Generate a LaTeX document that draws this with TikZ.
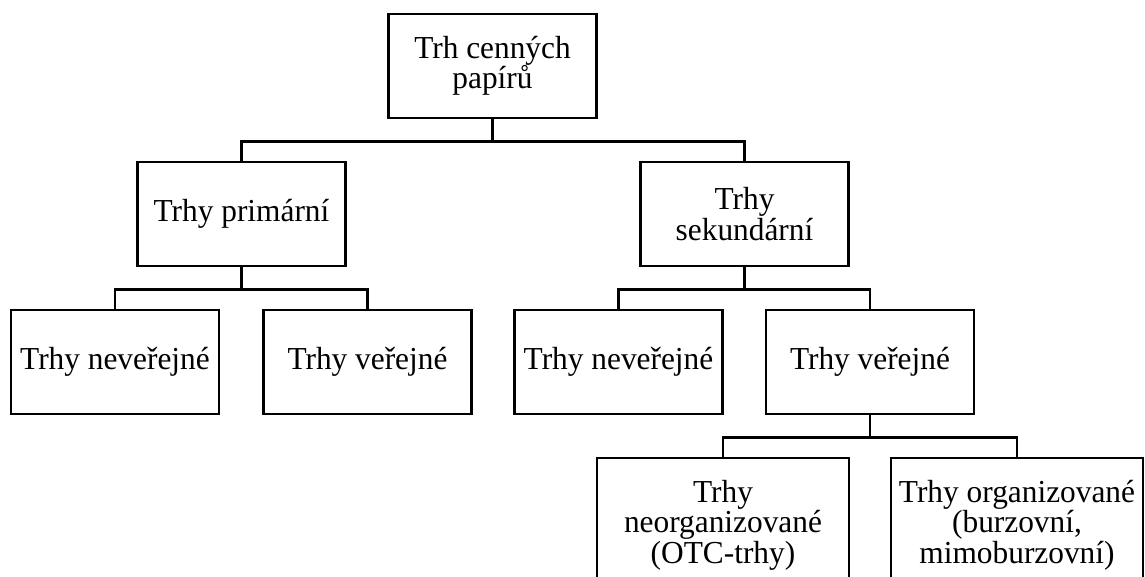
\documentclass[tikz,border=0pt]{standalone}
\usepackage{fontspec}
\setmainfont[FakeStretch=0.98]{Liberation Serif}

\begin{document}
\begin{tikzpicture}[x=1pt, y=-1pt, line width=2.6pt,
    box/.style={draw, rectangle, align=center, inner sep=0pt,
      minimum width=208pt, minimum height=104pt,
      font=\fontsize{32}{30.5}\selectfont}]
    \useasboundingbox (0,0) rectangle (1145,577);
    \clip (0,0) rectangle (1145,577);

    \node[box] (trh)  at (492.5,  66) {Trh cenných\\papírů};
    \node[box] (prim) at (241.5, 214) {Trhy primární};
    \node[box] (sek)  at (744.5, 214) {Trhy\\sekundární};
    \node[box] (p1)   at (115,   362) {Trhy neveřejné};
    \node[box] (p2)   at (367.5, 362) {Trhy veřejné};
    \node[box] (s1)   at (618.5, 362) {Trhy neveřejné};
    \node[box] (s2)   at (870,   362) {Trhy veřejné};
    \node[box, minimum width=252pt, minimum height=134pt] (v1) at (723,  525)
      {Trhy\\neorganizované\\(OTC-trhy)};
    \node[box, minimum width=252pt, minimum height=134pt] (v2) at (1017, 525)
      {Trhy organizované\\(burzovní,\\mimoburzovní)};

    \draw (trh.south) -- ++(0,22) coordinate (j1) -| (prim.north);
    \draw (j1) -| (sek.north);
    \draw (prim.south) -- ++(0,22) coordinate (j2) -| (p1.north);
    \draw (j2) -| (p2.north);
    \draw (sek.south) -- ++(0,22) coordinate (j3) -| (s1.north);
    \draw (j3) -| (s2.north);
    \draw (s2.south) -- ++(0,22) coordinate (j4) -| (v1.north);
    \draw (j4) -| (v2.north);

  \end{tikzpicture}
\end{document}
